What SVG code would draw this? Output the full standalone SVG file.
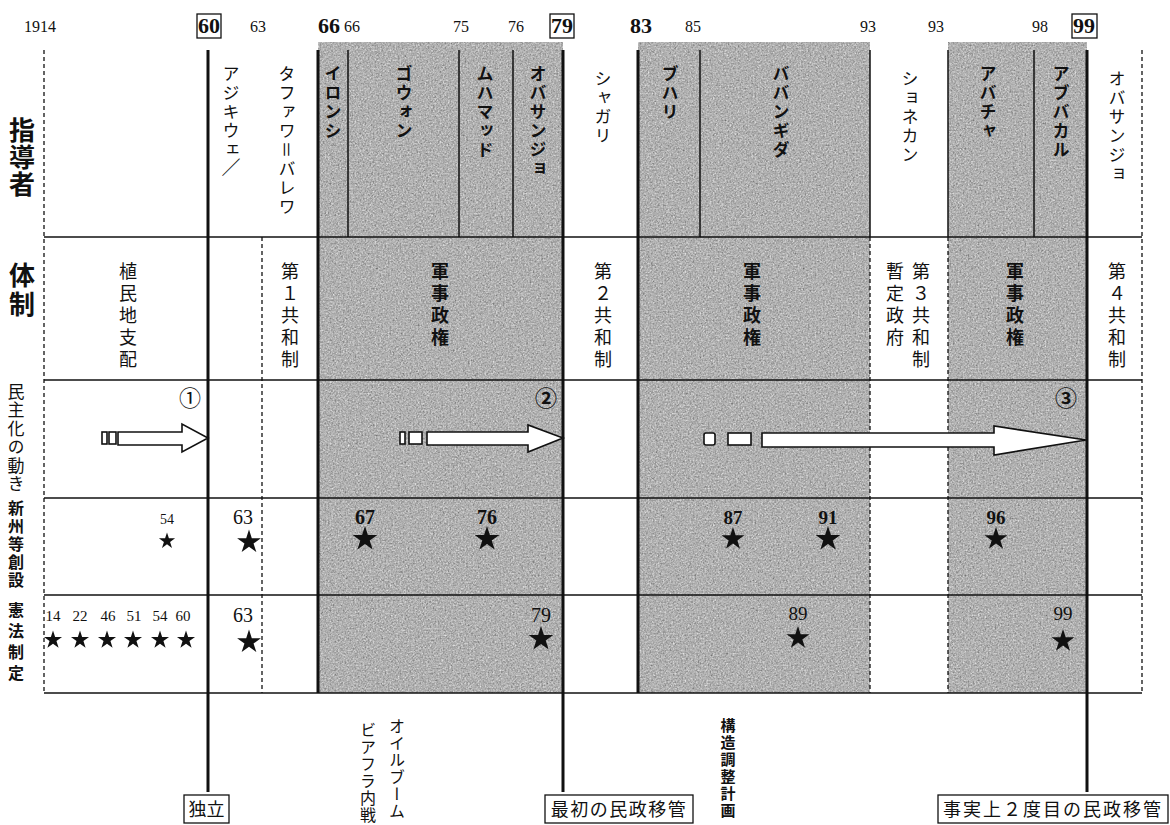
<svg xmlns="http://www.w3.org/2000/svg" width="1170" height="825" viewBox="0 0 1170 825">
<style>
.jp{font-family:"Noto Sans CJK JP","Noto Sans",sans-serif;fill:#111}
.v{writing-mode:vertical-rl;text-orientation:mixed}
.lead{font-size:17px;letter-spacing:2px}
.b{font-weight:700}
.reg{font-size:18px;letter-spacing:4px}
.num{font-family:"Liberation Serif","DejaVu Serif",serif;fill:#111;text-anchor:middle}
.yr{font-size:16px}
.big{font-size:22px;font-weight:700}
.thick{stroke:#111;stroke-width:3;fill:none}
.thin{stroke:#111;stroke-width:1.5;fill:none}
.dash{stroke:#111;stroke-width:1.3;stroke-dasharray:4 3;fill:none}
.box{fill:none;stroke:#111;stroke-width:1.3}
.arrow{fill:#fff;stroke:#111;stroke-width:1.6;stroke-linejoin:miter}
.star{fill:#111}
</style>
<defs>
<filter id="grain" x="0" y="0" width="100%" height="100%" color-interpolation-filters="sRGB">
<feTurbulence type="fractalNoise" baseFrequency="0.6" numOctaves="3" seed="7"/>
<feColorMatrix type="matrix" values="0.33 0.33 0.33 0 0 0.33 0.33 0.33 0 0 0.33 0.33 0.33 0 0 0 0 0 0 1"/>
<feComponentTransfer>
<feFuncR type="linear" slope="0.85" intercept="0.27"/>
<feFuncG type="linear" slope="0.85" intercept="0.27"/>
<feFuncB type="linear" slope="0.85" intercept="0.27"/>
</feComponentTransfer>
<feComposite operator="in" in2="SourceGraphic"/>
</filter>
<path id="st" d="M0,-10 L2.245,-3.09 L9.51,-3.09 L3.633,1.18 L5.878,8.09 L0,3.82 L-5.878,8.09 L-3.633,1.18 L-9.51,-3.09 L-2.245,-3.09Z"/>
</defs>
<rect width="1170" height="825" fill="#fff"/>

<g id="shading" filter="url(#grain)" fill="#000">
<rect x="318" y="42" width="245" height="651"/>
<rect x="638" y="42" width="232" height="651"/>
<rect x="948" y="42" width="139" height="651"/>
</g>

<g id="grid">
<line class="dash" x1="44" y1="50" x2="44" y2="693"/>
<line class="dash" x1="1142" y1="50" x2="1142" y2="693"/>
<line class="thick" x1="208" y1="50" x2="208" y2="792"/>
<line class="dash" x1="262" y1="237" x2="262" y2="693"/>
<line class="thick" x1="318" y1="50" x2="318" y2="693"/>
<line class="thin" x1="348" y1="50" x2="348" y2="237"/>
<line class="thin" x1="459" y1="50" x2="459" y2="237"/>
<line class="thin" x1="513" y1="50" x2="513" y2="237"/>
<line class="thick" x1="563" y1="50" x2="563" y2="792"/>
<line class="thick" x1="638" y1="50" x2="638" y2="693"/>
<line class="thin" x1="700" y1="50" x2="700" y2="237"/>
<line class="thin" x1="870" y1="50" x2="870" y2="237"/>
<line class="dash" x1="870" y1="237" x2="870" y2="693"/>
<line class="thin" x1="948" y1="50" x2="948" y2="237"/>
<line class="dash" x1="948" y1="237" x2="948" y2="693"/>
<line class="thin" x1="1034" y1="50" x2="1034" y2="237"/>
<line class="thick" x1="1087" y1="50" x2="1087" y2="792"/>
<line class="thin" x1="44" y1="237" x2="1142" y2="237"/>
<line class="thin" x1="44" y1="380" x2="1142" y2="380"/>
<line class="thin" x1="44" y1="498" x2="1142" y2="498"/>
<line class="thin" x1="44" y1="595" x2="1142" y2="595"/>
<line class="thin" x1="44" y1="693" x2="1142" y2="693"/>
</g>

<g id="years">
<text class="num yr" x="40" y="32">1914</text>
<rect class="box" x="197" y="14" width="24" height="24"/>
<text class="num big" x="209" y="33">60</text>
<text class="num yr" x="258" y="32">63</text>
<text class="num big" x="329" y="33">66</text>
<text class="num yr" x="352" y="32">66</text>
<text class="num yr" x="461" y="32">75</text>
<text class="num yr" x="516" y="32">76</text>
<rect class="box" x="550" y="14" width="24" height="24"/>
<text class="num big" x="562" y="33">79</text>
<text class="num big" x="641" y="33">83</text>
<text class="num yr" x="693" y="32">85</text>
<text class="num yr" x="868" y="32">93</text>
<text class="num yr" x="936" y="32">93</text>
<text class="num yr" x="1040" y="32">98</text>
<rect class="box" x="1072" y="14" width="25" height="24"/>
<text class="num big" x="1084" y="33">99</text>
</g>

<g id="row-labels">
<text class="jp v b" x="22" y="117" font-size="26" letter-spacing="1">指導者</text>
<text class="jp v b" x="22" y="262" font-size="26" letter-spacing="3">体制</text>
<text class="jp v" x="16" y="383" font-size="17" letter-spacing="1.5">民主化の動き</text>
<text class="jp v b" x="16" y="500" font-size="16" letter-spacing="2">新州等創設</text>
<text class="jp v b" x="16" y="602" font-size="16" letter-spacing="5">憲法制定</text>
</g>

<g id="leaders">
<text class="jp v lead" x="231" y="65">アジキウェ</text>
<text class="jp" x="231" y="175" font-size="19" text-anchor="middle">／</text>
<text class="jp v lead" x="287" y="65" letter-spacing="3.5">タファワ＝バレワ</text>
<text class="jp v lead b" x="333" y="65">イロンシ</text>
<text class="jp v lead b" x="404" y="65">ゴウォン</text>
<text class="jp v lead b" x="485" y="65">ムハマッド</text>
<text class="jp v lead b" x="538" y="65">オバサンジョ</text>
<text class="jp v lead" x="603" y="70">シャガリ</text>
<text class="jp v lead b" x="670" y="65">ブハリ</text>
<text class="jp v lead b" x="781" y="65" letter-spacing="4">ババンギダ</text>
<text class="jp v lead" x="910" y="70">ショネカン</text>
<text class="jp v lead b" x="988" y="65">アバチャ</text>
<text class="jp v lead b" x="1061" y="65">アブバカル</text>
<text class="jp v lead" x="1117" y="70">オバサンジョ</text>
</g>

<g id="regimes">
<text class="jp v reg" x="128" y="262">植民地支配</text>
<text class="jp v reg" x="290" y="262">第１共和制</text>
<text class="jp v reg b" x="440" y="262">軍事政権</text>
<text class="jp v reg" x="603" y="262">第２共和制</text>
<text class="jp v reg b" x="752" y="262">軍事政権</text>
<text class="jp v reg" x="895" y="262">暫定政府</text>
<text class="jp v reg" x="921" y="262">第３共和制</text>
<text class="jp v reg b" x="1015" y="262">軍事政権</text>
<text class="jp v reg" x="1117" y="262">第４共和制</text>
</g>

<g id="democratization">
<text class="jp" x="190" y="406" font-size="22" text-anchor="middle">①</text>
<text class="jp b" x="546" y="406" font-size="22" text-anchor="middle">②</text>
<text class="jp b" x="1066" y="406" font-size="22" text-anchor="middle">③</text>
</g>

<g id="connectors">
<g id="arrow1">
<rect class="arrow" x="102" y="432" width="5" height="12"/>
<rect class="arrow" x="109" y="432" width="7" height="12"/>
<path class="arrow" d="M118,432 L182,432 L182,424 L208,438 L182,452 L182,445 L118,445 Z"/>
</g>
<g id="arrow2">
<rect class="arrow" x="400" y="432" width="5" height="12"/>
<rect class="arrow" x="409" y="432" width="13" height="12"/>
<path class="arrow" d="M427,432 L528,432 L528,425 L563,438 L528,452 L528,445 L427,445 Z"/>
</g>
<g id="arrow3">
<rect class="arrow" x="704" y="433" width="11" height="12" rx="2"/>
<rect class="arrow" x="728" y="433" width="23" height="12"/>
<path class="arrow" d="M762,433 L994,433 L994,426 L1086,440 L994,455 L994,447 L762,447 Z"/>
</g>
</g>

<g id="new-states">
<text class="num" x="167" y="524" font-size="14">54</text>
<use href="#st" class="star" transform="translate(167,541) scale(0.85)"/>
<text class="num" x="243" y="524" font-size="20">63</text>
<use href="#st" class="star" transform="translate(249,542) scale(1.25)"/>
<text class="num b" x="365" y="524" font-size="20">67</text>
<use href="#st" class="star" transform="translate(365,539) scale(1.3)"/>
<text class="num b" x="487" y="524" font-size="20">76</text>
<use href="#st" class="star" transform="translate(487,539) scale(1.3)"/>
<text class="num b" x="733" y="524" font-size="19">87</text>
<use href="#st" class="star" transform="translate(733,539) scale(1.2)"/>
<text class="num b" x="828" y="524" font-size="19">91</text>
<use href="#st" class="star" transform="translate(828,539) scale(1.3)"/>
<text class="num b" x="996" y="524" font-size="19">96</text>
<use href="#st" class="star" transform="translate(996,539) scale(1.2)"/>
</g>

<g id="constitutions">
<text class="num" x="53" y="621" font-size="15">14</text>
<text class="num" x="80" y="621" font-size="15">22</text>
<text class="num" x="108" y="621" font-size="15">46</text>
<text class="num" x="134" y="621" font-size="15">51</text>
<text class="num" x="160" y="621" font-size="15">54</text>
<text class="num" x="183" y="621" font-size="15">60</text>
<use href="#st" class="star" transform="translate(53,640) scale(0.95)"/>
<use href="#st" class="star" transform="translate(80,640) scale(0.95)"/>
<use href="#st" class="star" transform="translate(107,640) scale(0.95)"/>
<use href="#st" class="star" transform="translate(133,640) scale(0.95)"/>
<use href="#st" class="star" transform="translate(160,640) scale(0.95)"/>
<use href="#st" class="star" transform="translate(186,640) scale(0.95)"/>
<text class="num" x="243" y="622" font-size="20">63</text>
<use href="#st" class="star" transform="translate(249,642) scale(1.25)"/>
<text class="num" x="541" y="622" font-size="20">79</text>
<use href="#st" class="star" transform="translate(541,639) scale(1.3)"/>
<text class="num" x="798" y="620" font-size="19">89</text>
<use href="#st" class="star" transform="translate(798,638) scale(1.2)"/>
<text class="num" x="1063" y="620" font-size="19">99</text>
<use href="#st" class="star" transform="translate(1063,641) scale(1.2)"/>
</g>

<g id="events">
<text class="jp v" x="397" y="718" font-size="16" letter-spacing="1">オイルブーム</text>
<text class="jp v" x="368" y="722" font-size="16" letter-spacing="1">ビアフラ内戦</text>
<text class="jp v b" x="728" y="718" font-size="15" letter-spacing="2">構造調整計画</text>
</g>

<g id="milestones">
<rect class="box" x="184" y="795" width="45" height="28"/>
<text class="jp" x="206.5" y="816" font-size="18" text-anchor="middle">独立</text>
<rect class="box" x="545" y="795" width="148" height="28"/>
<text class="jp" x="619" y="816" font-size="18" text-anchor="middle" letter-spacing="1.5">最初の民政移管</text>
<rect class="box" x="938" y="795" width="230" height="28"/>
<text class="jp" x="1053" y="816" font-size="18" text-anchor="middle" letter-spacing="2">事実上２度目の民政移管</text>
</g>
</svg>
